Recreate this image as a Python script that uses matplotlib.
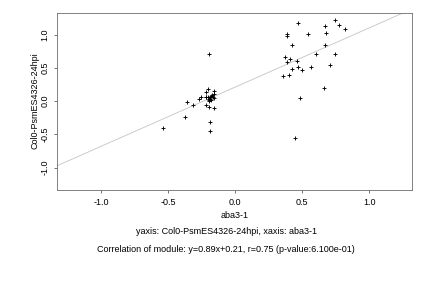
import matplotlib
matplotlib.use('Agg')
import matplotlib.pyplot as plt
import numpy as np

# aba3-1 (x) vs Col0-PsmES4326-24hpi (y)
x_vals = [-0.537, -0.373, -0.358, -0.313, -0.274, -0.254, -0.216, -0.201, -0.199,
          -0.219, -0.206, -0.189, -0.182, -0.172, -0.164, -0.157, -0.157, -0.157,
          -0.199, -0.194, -0.189, -0.219, -0.194, -0.157, -0.187, -0.187, -0.216,
          -0.196, -0.178,
          0.386, 0.388, 0.470, 0.545, 0.672, 0.679, 0.746, 0.776, 0.821, 0.425,
          0.672, 0.373, 0.388, 0.410, 0.463, 0.604, 0.746, 0.709, 0.470, 0.500,
          0.420, 0.567, 0.358, 0.403, 0.664, 0.485, 0.448]
y_vals = [-0.406, -0.241, -0.015, -0.060, 0.030, 0.058, 0.130, 0.180, 0.707,
          0.065, 0.065, 0.055, 0.075, 0.090, 0.055, 0.150, 0.100, 0.040,
          0.015, 0.000, 0.025, -0.060, -0.088, -0.108, -0.316, -0.451, 0.060,
          0.030, 0.010,
          1.012, 0.982, 1.173, 1.008, 1.128, 1.018, 1.218, 1.143, 1.083, 0.842,
          0.842, 0.662, 0.586, 0.627, 0.602, 0.712, 0.712, 0.541, 0.511, 0.466,
          0.481, 0.511, 0.376, 0.391, 0.195, 0.045, -0.556]
slope = 0.89
intercept = 0.21
ticks = [-1.0, -0.5, 0.0, 0.5, 1.0]
tick_labels = ['-1.0', '-0.5', '0.0', '0.5', '1.0']

plt.rcParams['font.family'] = ['Liberation Sans', 'DejaVu Sans']
fs = 9

fig = plt.figure(figsize=(6, 4), dpi=72)
ax = fig.add_axes([57.3 / 432, 1 - 190 / 288, 355 / 432, 176.7 / 288])

xlim = (-1.328, 1.321)
ylim = (-1.338, 1.319)
xl = np.array(xlim)
ax.plot(xl, slope * xl + intercept, color='#c8c8c8', linewidth=0.9, zorder=1)
ax.scatter(x_vals, y_vals, marker='+', s=22, color='black', linewidths=0.9, zorder=2)

ax.set_xlim(xlim)
ax.set_ylim(ylim)
ax.set_xticks(ticks)
ax.set_xticklabels(tick_labels, fontsize=fs)
ax.set_yticks(ticks)
ax.set_yticklabels(tick_labels, fontsize=fs, rotation=90, va='center')
ax.tick_params(length=3, width=0.8, color='#555555', pad=5)
for s in ax.spines.values():
    s.set_color('#777777')
    s.set_linewidth(0.9)

fig.text(235 / 432, 1 - 215 / 288, 'aba3-1', ha='center', va='center', fontsize=fs)
fig.text(35 / 432, 1 - 101 / 288, 'Col0-PsmES4326-24hpi', ha='center', va='center',
         rotation=90, fontsize=fs)
fig.text(226 / 432, 1 - 231 / 288, 'yaxis: Col0-PsmES4326-24hpi, xaxis: aba3-1',
         ha='center', va='center', fontsize=fs)
fig.text(226 / 432, 1 - 249 / 288,
         'Correlation of module: y=%.2fx+%.2f, r=0.75 (p-value:6.100e-01)' % (slope, intercept),
         ha='center', va='center', fontsize=fs)

fig.savefig('out.png', dpi=72)
